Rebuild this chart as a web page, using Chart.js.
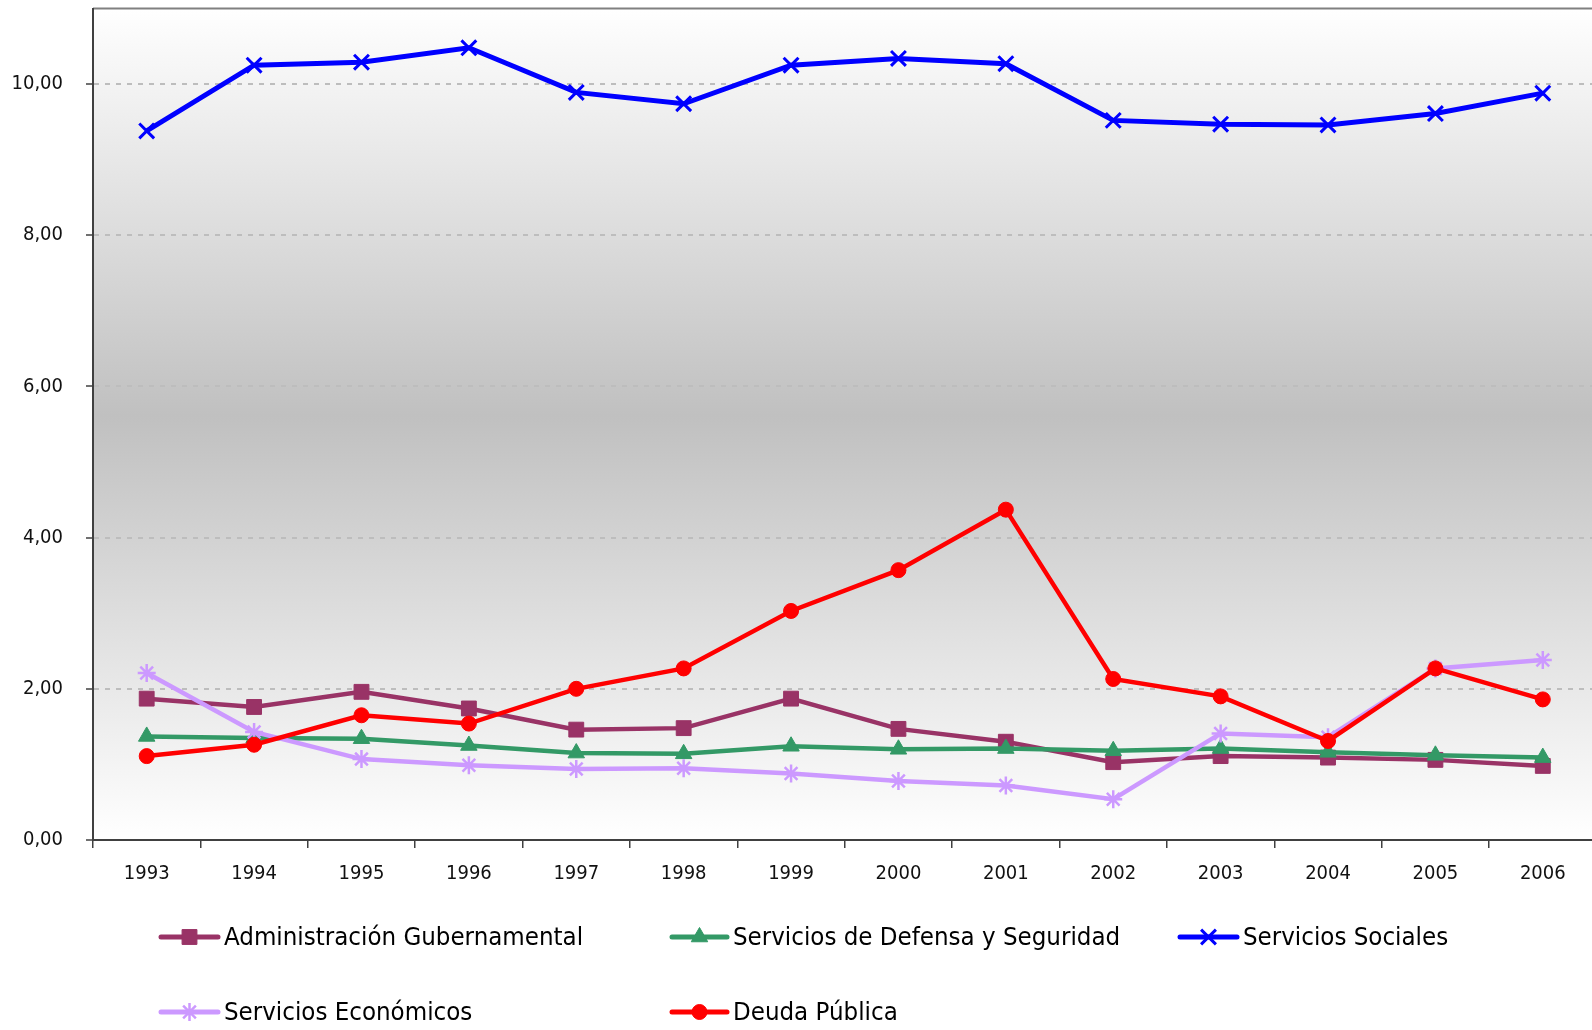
<!DOCTYPE html>
<html>
<head>
<meta charset="utf-8">
<script src="https://cdn.jsdelivr.net/npm/chart.js@4.4.1/dist/chart.umd.min.js"></script>
<style>
  html, body { margin: 0; padding: 0; background: #ffffff; overflow: hidden; }
  #wrap { width: 1592px; height: 1030px; position: relative; overflow: hidden; }
  #c { position: absolute; left: 0; top: -5px; }
</style>
</head>
<body>
<div id="wrap"><canvas id="c" width="1610" height="1035"></canvas></div>
<script>
// ---- Data ----
const years = ['1993','1994','1995','1996','1997','1998','1999','2000','2001','2002','2003','2004','2005','2006'];
const administracion = [1.87, 1.76, 1.96, 1.74, 1.46, 1.48, 1.87, 1.47, 1.30, 1.03, 1.11, 1.09, 1.06, 0.98];
const defensa        = [1.37, 1.35, 1.34, 1.25, 1.15, 1.14, 1.24, 1.20, 1.21, 1.18, 1.21, 1.16, 1.12, 1.09];
const sociales       = [9.38, 10.25, 10.29, 10.48, 9.89, 9.74, 10.25, 10.34, 10.27, 9.52, 9.47, 9.46, 9.61, 9.88];
const economicos     = [2.21, 1.43, 1.07, 0.99, 0.94, 0.95, 0.88, 0.78, 0.72, 0.54, 1.41, 1.36, 2.27, 2.38];
const deuda          = [1.11, 1.26, 1.65, 1.54, 2.00, 2.27, 3.03, 3.57, 4.37, 2.13, 1.90, 1.31, 2.27, 1.86];
const yTicks = [0, 2, 4, 6, 8, 10];
const seriesNames = ['Administración Gubernamental', 'Servicios de Defensa y Seguridad', 'Servicios Sociales', 'Servicios Económicos', 'Deuda Pública'];

const FONT = "'DejaVu Sans Condensed', 'DejaVu Sans', sans-serif";
const OFFY = 5; // canvas is shifted up by this many pixels
Chart.defaults.font.family = FONT;
Chart.defaults.color = '#000000';

function ds(label, data, color, style, radius, bw, lw, order) {
  return {
    label, data,
    borderColor: color, backgroundColor: color,
    borderWidth: lw,
    pointStyle: style, pointRadius: radius, pointHoverRadius: radius,
    pointBackgroundColor: color, pointBorderColor: color, pointBorderWidth: bw,
    tension: 0, fill: false, order
  };
}

const datasets = [
  ds(seriesNames[0], administracion, '#993366', 'rect', 10.5, 1, 4.5, 5),
  ds(seriesNames[1], defensa, '#339966', 'triangle', 9.5, 1, 4.5, 4),
  ds(seriesNames[2], sociales, '#0000ff', 'crossRot', 10.5, 3, 5, 3),
  ds(seriesNames[3], economicos, '#cc99ff', 'star', 9, 2.5, 4.5, 2),
  ds(seriesNames[4], deuda, '#ff0000', 'circle', 7.5, 1, 4.5, 1)
];

const bgPlugin = {
  id: 'bg',
  beforeDraw(chart) {
    const { ctx, chartArea: a } = chart;
    ctx.save();
    const g = ctx.createLinearGradient(0, a.top, 0, a.bottom);
    g.addColorStop(0, '#ffffff');
    g.addColorStop(0.49, '#c0c0c0');
    g.addColorStop(1, '#ffffff');
    ctx.fillStyle = g;
    ctx.fillRect(a.left, a.top, a.right - a.left, a.bottom - a.top);
    ctx.strokeStyle = '#808080';
    ctx.lineWidth = 2;
    ctx.beginPath();
    ctx.moveTo(a.left, a.top);
    ctx.lineTo(chart.width, a.top);
    ctx.stroke();
    ctx.restore();
  }
};

const legendPlugin = {
  id: 'customLegend',
  afterDraw(chart) {
    const { ctx } = chart;
    const cols = [ {x1: 161, x2: 218, tx: 224}, {x1: 672, x2: 727, tx: 733}, {x1: 1180, x2: 1237, tx: 1243} ];
    const rows = [937 + OFFY, 1012 + OFFY];
    const slots = [[0,0],[0,1],[0,2],[1,0],[1,1]];
    chart.data.datasets.forEach((d, i) => {
      const [r, c] = slots[i];
      const col = cols[c], y = rows[r];
      ctx.save();
      ctx.strokeStyle = d.borderColor;
      ctx.lineWidth = 5;
      ctx.lineCap = 'round';
      ctx.beginPath();
      ctx.moveTo(col.x1, y);
      ctx.lineTo(col.x2, y);
      ctx.stroke();
      ctx.lineCap = 'butt';
      ctx.fillStyle = d.pointBackgroundColor;
      ctx.strokeStyle = d.pointBorderColor;
      ctx.lineWidth = d.pointBorderWidth;
      Chart.helpers.drawPoint(ctx, { pointStyle: d.pointStyle, radius: d.pointRadius, borderWidth: d.pointBorderWidth, rotation: 0 }, (col.x1 + col.x2) / 2, y);
      ctx.fillStyle = '#000000';
      ctx.font = '25.6px ' + FONT;
      ctx.textBaseline = 'middle';
      ctx.textAlign = 'left';
      ctx.fillText(d.label, col.tx, y + 1);
      ctx.restore();
    });
  }
};

new Chart(document.getElementById('c'), {
  type: 'line',
  data: { labels: years, datasets },
  plugins: [bgPlugin, legendPlugin],
  options: {
    responsive: false,
    animation: false,
    devicePixelRatio: 1,
    layout: { padding: { top: 7, right: 0, left: 0, bottom: 0 } },
    plugins: { legend: { display: false }, tooltip: { enabled: false } },
    scales: {
      x: {
        type: 'category',
        offset: true,
        grid: { offset: true, drawOnChartArea: false, drawTicks: true, tickLength: 8, color: '#404040', lineWidth: 1.5 },
        border: { color: '#404040', width: 2 },
        ticks: { font: { size: 20 }, color: '#111111', padding: 14, maxRotation: 0, autoSkip: false },
        afterFit(scale) { scale.height = 190; scale.paddingLeft = 0; scale.paddingRight = 0; }
      },
      y: {
        min: 0, max: 11,
        afterBuildTicks(scale) { scale.ticks = yTicks.map(v => ({ value: v })); },
        ticks: {
          font: { size: 20 }, color: '#111111', padding: 23,
          callback: v => v.toFixed(2).replace('.', ',')
        },
        grid: {
          color: c => (c.tick && c.tick.value === 0) ? 'rgba(0,0,0,0)' : '#bdbdbd',
          lineWidth: 2, drawTicks: true, tickLength: 7, tickColor: '#404040', tickWidth: 1.5, tickBorderDash: []
        },
        border: { color: '#404040', width: 2, dash: [5, 6] },
        afterFit(scale) { scale.width = 93; scale.paddingTop = 0; scale.paddingBottom = 0; }
      }
    }
  }
});
</script>
</body>
</html>
